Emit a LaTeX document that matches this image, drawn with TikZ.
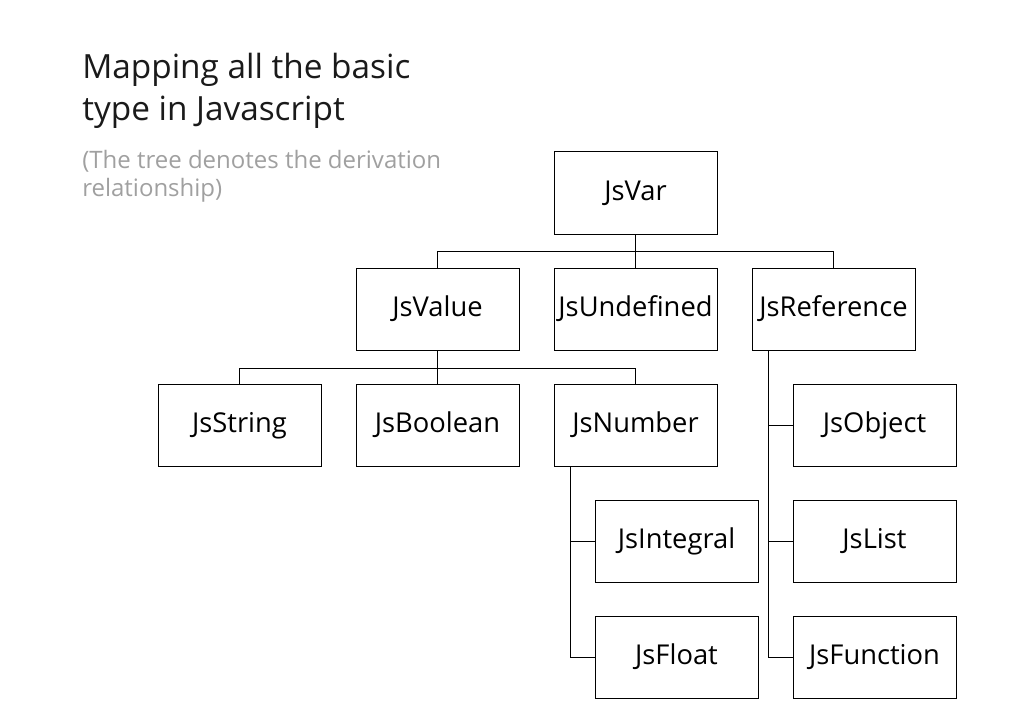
\documentclass[tikz,border=0pt]{standalone}
\usepackage{fontspec}
\setmainfont{Open Sans}
\definecolor{subgray}{HTML}{A0A0A0}
\definecolor{titlegray}{HTML}{1A1A1A}

\begin{document}
\begin{tikzpicture}[x=0.75pt,y=-0.75pt,font=\fontsize{20.5}{24}\selectfont]
\usetikzlibrary{calc}
\tikzset{typebox/.style={draw,line width=0.75pt,minimum width=122.25pt,minimum height=61.5pt,inner sep=0pt,text height=1.3em,text depth=0.25em},
  link/.style={line width=0.75pt}}

\useasboundingbox (0,0) rectangle (1012,720);

\begin{scope}

\node[anchor=base west,align=left,inner sep=0pt,text=titlegray,font=\fontsize{25}{32}\selectfont] (title) at (82,121) {Mapping all the basic\\type in Javascript};
\node[anchor=base west,align=left,inner sep=0pt,text=subgray,font=\fontsize{18}{21}\selectfont] (subtitle) at (82,197) {(The tree denotes the derivation\\relationship)};

\node[typebox] (jsvar) at (635.5,193) {JsVar};

\node[typebox] (jsvalue) at (437.5,309) {JsValue};
\node[typebox] (jsundefined) at (635.5,309) {JsUndefined};
\node[typebox] (jsreference) at (833.5,309) {JsReference};

\node[typebox] (jsstring) at (239.5,425.5) {JsString};
\node[typebox] (jsboolean) at (437.5,425.5) {JsBoolean};
\node[typebox] (jsnumber) at (635.5,425.5) {JsNumber};
\node[typebox] (jsobject) at (874.5,425.5) {JsObject};

\node[typebox] (jsintegral) at (676.5,541.5) {JsIntegral};
\node[typebox] (jslist) at (874.5,541.5) {JsList};

\node[typebox] (jsfloat) at (676.5,657.5) {JsFloat};
\node[typebox] (jsfunction) at (874.5,657.5) {JsFunction};

\draw[link] (jsvar.south) -- ++(0,17) coordinate (varbus) -| (jsvalue.north);
\draw[link] (varbus) -| (jsreference.north);
\draw[link] (varbus) -- (jsundefined.north);

\draw[link] (jsvalue.south) -- ++(0,18) coordinate (valuebus) -| (jsstring.north);
\draw[link] (valuebus) -| (jsnumber.north);
\draw[link] (valuebus) -- (jsboolean.north);

\coordinate (numtrunk) at ($(jsnumber.south west)+(17,0)$);
\draw[link] (numtrunk) |- (jsfloat.west);
\draw[link] (jsintegral.west) -- (jsintegral.west -| numtrunk);

\coordinate (reftrunk) at ($(jsreference.south west)+(17,0)$);
\draw[link] (reftrunk) |- (jsfunction.west);
\draw[link] (jsobject.west) -- (jsobject.west -| reftrunk);
\draw[link] (jslist.west) -- (jslist.west -| reftrunk);

\end{scope}

\end{tikzpicture}
\end{document}
